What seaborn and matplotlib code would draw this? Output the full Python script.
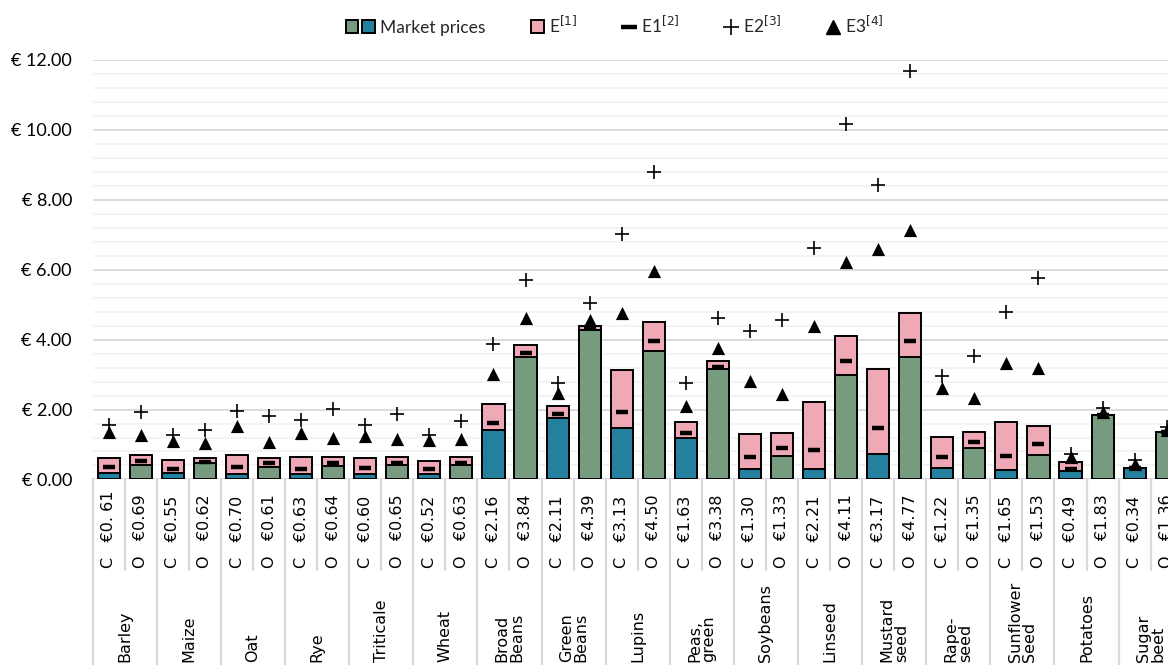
import numpy as np
import pandas as pd
import matplotlib
matplotlib.use("Agg")
import matplotlib.pyplot as plt
import seaborn as sns
from matplotlib.patches import Patch
from matplotlib.lines import Line2D
from matplotlib.legend_handler import HandlerTuple
from matplotlib.ticker import MultipleLocator, FuncFormatter
import matplotlib.transforms as mtransforms

# ---------------- data ----------------
crops = ["Barley", "Maize", "Oat", "Rye", "Triticale", "Wheat", "Broad\nBeans",
         "Green\nBeans", "Lupins", "Peas,\ngreen", "Soybeans", "Linseed",
         "Mustard\nseed", "Rape-\nseed", "Sunflower\nSeed", "Potatoes", "Sugar\nbeet"]

label_C = ["€0. 61", "€0.55", "€0.70", "€0.63", "€0.60", "€0.52", "€2.16", "€2.11", "€3.13",
           "€1.63", "€1.30", "€2.21", "€3.17", "€1.22", "€1.65", "€0.49", "€0.34"]
label_O = ["€0.69", "€0.62", "€0.61", "€0.64", "€0.65", "€0.63", "€3.84", "€4.39", "€4.50",
           "€3.38", "€1.33", "€4.11", "€4.77", "€1.35", "€1.53", "€1.83", "€1.36"]

total_C = [0.61, 0.55, 0.70, 0.63, 0.60, 0.52, 2.16, 2.11, 3.13, 1.63, 1.30, 2.21, 3.17, 1.22, 1.65, 0.49, 0.34]
total_O = [0.69, 0.62, 0.61, 0.64, 0.65, 0.63, 3.84, 4.39, 4.50, 3.38, 1.33, 4.11, 4.77, 1.35, 1.53, 1.83, 1.36]

market_C = [0.19, 0.18, 0.17, 0.16, 0.17, 0.16, 1.42, 1.75, 1.48, 1.20, 0.30, 0.30, 0.73, 0.32, 0.27, 0.25, 0.34]
market_O = [0.42, 0.46, 0.37, 0.39, 0.40, 0.42, 3.49, 4.28, 3.68, 3.16, 0.68, 2.99, 3.49, 0.89, 0.70, 1.83, 1.36]

e1_C = [0.35, 0.29, 0.35, 0.31, 0.32, 0.30, 1.62, 1.87, 1.93, 1.32, 0.64, 0.85, 1.47, 0.64, 0.68, 0.30, 0.34]
e1_O = [0.53, 0.51, 0.47, 0.47, 0.48, 0.48, 3.62, 4.35, 3.97, 3.23, 0.91, 3.40, 3.95, 1.07, 1.01, 1.83, 1.36]

e2_C = [1.56, 1.27, 1.97, 1.69, 1.56, 1.27, 3.88, 2.76, 7.03, 2.77, 4.25, 6.63, 8.41, 2.95, 4.78, 0.74, 0.55]
e2_O = [1.92, 1.42, 1.82, 2.01, 1.87, 1.68, 5.70, 5.05, 8.78, 4.62, 4.55, 10.16, 11.68, 3.52, 5.76, 2.03, 1.50]

e3_C = [1.37, 1.11, 1.53, 1.32, 1.25, 1.13, 3.03, 2.47, 4.77, 2.11, 2.82, 4.38, 6.60, 2.61, 3.33, 0.63, 0.44]
e3_O = [1.27, 1.04, 1.08, 1.20, 1.15, 1.16, 4.62, 4.57, 5.95, 3.76, 2.44, 6.21, 7.12, 2.33, 3.20, 1.94, 1.42]

GREEN = "#779b7f"
BLUE = "#23809f"
PINK = "#efa9b6"

rows = []
for i, crop in enumerate(crops):
    rows.append(dict(bar=f"{crop} C", crop=crop, kind="C", label=label_C[i], total=total_C[i],
                     market=market_C[i], e1=e1_C[i], e2=e2_C[i], e3=e3_C[i]))
    rows.append(dict(bar=f"{crop} O", crop=crop, kind="O", label=label_O[i], total=total_O[i],
                     market=market_O[i], e1=e1_O[i], e2=e2_O[i], e3=e3_O[i]))
df = pd.DataFrame(rows)
order = list(df["bar"])
n = len(order)

# ---------------- figure ----------------
sns.set_theme(style="white")
plt.rcParams['font.family'] = ['Lato', 'DejaVu Sans']

fig = plt.figure(figsize=(11.68, 6.65), dpi=100)
ax = fig.add_axes([0.0794, 0.279, 0.9332, 0.631])

sns.barplot(data=df, x="bar", y="total", order=order, color=PINK, saturation=1,
            width=0.69, edgecolor="black", linewidth=1.4, errorbar=None, ax=ax, zorder=2)
sns.barplot(data=df, x="bar", y="market", order=order, hue="kind",
            palette={"C": BLUE, "O": GREEN}, saturation=1, dodge=False,
            width=0.69, edgecolor="black", linewidth=1.4, errorbar=None, legend=False,
            ax=ax, zorder=3)

sns.stripplot(data=df, x="bar", y="e1", order=order, jitter=False, marker="_", size=8,
              color="black", linewidth=3.2, ax=ax, zorder=5)
sns.stripplot(data=df, x="bar", y="e2", order=order, jitter=False, marker="+", size=9.5,
              color="black", linewidth=1.2, ax=ax, zorder=5)
sns.stripplot(data=df, x="bar", y="e3", order=order, jitter=False, marker="^", size=9.5,
              color="black", linewidth=0, ax=ax, zorder=5)

ax.set_xlim(-0.5, n - 0.5)
ax.set_ylim(0, 12)
ax.set_xlabel("")
ax.set_ylabel("")
ax.set_xticks([])
ax.yaxis.set_major_locator(MultipleLocator(2))
ax.yaxis.set_minor_locator(MultipleLocator(0.4))
ax.yaxis.set_major_formatter(FuncFormatter(lambda v, p: f"€ {v:.2f}"))
ax.tick_params(axis="y", which="both", length=0, pad=15, labelsize=13, labelcolor="black")
ax.grid(False)
ax.yaxis.grid(True, which="minor", color="#f2f2f2", linewidth=1.3, zorder=0)
ax.yaxis.grid(True, which="major", color="#d9d9d9", linewidth=1.3, zorder=0)
ax.set_axisbelow(True)
for s in ax.spines.values():
    s.set_visible(False)

# ---------------- category table below axis ----------------
trans = mtransforms.blended_transform_factory(ax.transData, fig.transFigure)
y_axis_bottom = 0.279
y_short = 0.143
for k in range(n + 1):
    xpos = k - 0.5
    y_end = 0.0 if k % 2 == 0 else y_short
    ax.add_line(Line2D([xpos, xpos], [y_axis_bottom, y_end], transform=trans,
                       color="#d9d9d9", linewidth=1.6, clip_on=False))

for i, r in df.iterrows():
    ax.text(i, y_short + 0.003, f"{r['kind']}   {r['label']}", transform=trans,
            rotation=90, ha="center", va="bottom", fontsize=11.5,
            family=["DejaVu Sans"], color="black")

for j, crop in enumerate(crops):
    ax.text(2 * j + 0.5, 0.004, crop, transform=trans, rotation=90, ha="center",
            va="bottom", multialignment="left", linespacing=0.95, fontsize=11.5,
            family=["DejaVu Sans"], color="black")

# ---------------- legend ----------------
class WideTupleHandler(HandlerTuple):
    def legend_artist(self, legend, orig_handle, fontsize, handlebox):
        handlebox.width = handlebox.width * 2.25
        return super().legend_artist(legend, orig_handle, fontsize, handlebox)

h_market = (Patch(facecolor=GREEN, edgecolor="black", linewidth=1.4),
            Patch(facecolor=BLUE, edgecolor="black", linewidth=1.4))
h_e = Patch(facecolor=PINK, edgecolor="black", linewidth=1.4)
h_e1 = Line2D([], [], marker="_", color="black", linestyle="none", markersize=11, markeredgewidth=3.2)
h_e2 = Line2D([], [], marker="+", color="black", linestyle="none", markersize=11, markeredgewidth=1.2)
h_e3 = Line2D([], [], marker="^", color="black", linestyle="none", markersize=10)

fig.legend([h_market, h_e, h_e1, h_e2, h_e3],
           ["Market prices", r"E$^{[1]}$", r"E1$^{[2]}$", r"E2$^{[3]}$", r"E3$^{[4]}$"],
           handler_map={tuple: WideTupleHandler(ndivide=None, pad=0.25)},
           loc="center", bbox_to_anchor=(0.526, 0.962), ncol=5, frameon=False,
           fontsize=12.5, handlelength=0.75, handleheight=0.75, handletextpad=0.3,
           columnspacing=2.6)

fig.savefig("out.png", dpi=100)
